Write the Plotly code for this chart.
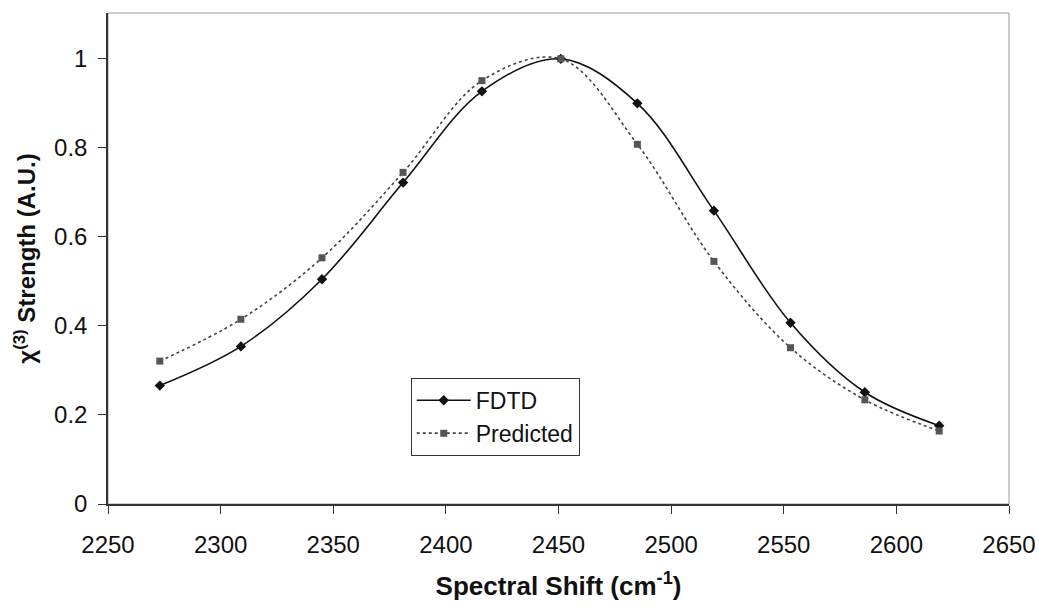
import plotly.graph_objects as go

shift = [2273, 2309, 2345, 2381, 2416, 2451, 2485, 2519, 2553, 2586, 2619]
fdtd = [0.266, 0.354, 0.505, 0.722, 0.927, 1.0, 0.900, 0.659, 0.407, 0.251, 0.176]
predicted = [0.321, 0.415, 0.553, 0.745, 0.951, 1.0, 0.808, 0.545, 0.351, 0.234, 0.164]

x_ticks = [2250, 2300, 2350, 2400, 2450, 2500, 2550, 2600, 2650]
y_ticks = [0, 0.2, 0.4, 0.6, 0.8, 1]
y_tick_text = ["0", "0.2", "0.4", "0.6", "0.8", "1"]

FONT = "Arial, Liberation Sans, Helvetica, sans-serif"

fig = go.Figure()
fig.add_trace(go.Scatter(
    x=shift, y=fdtd, name="FDTD", mode="lines+markers",
    line=dict(color="#111111", width=1.6, shape="spline", smoothing=1.0),
    marker=dict(symbol="diamond", size=8, color="#111111"),
))
fig.add_trace(go.Scatter(
    x=shift, y=predicted, name="Predicted", mode="lines+markers",
    line=dict(color="#444444", width=1.6, dash="dot", shape="spline", smoothing=1.0),
    marker=dict(symbol="square", size=7, color="#555555"),
))

fig.update_layout(
    width=1039, height=608,
    margin=dict(l=108, r=30, t=13, b=104, autoexpand=False),
    paper_bgcolor="white", plot_bgcolor="white",
    font=dict(family=FONT, color="#111111", size=22),
    showlegend=True,
    legend=dict(
        x=0.336, y=0.257, xanchor="left", yanchor="top",
        bordercolor="#333333", borderwidth=1, bgcolor="white",
        font=dict(family=FONT, size=23, color="#111111"),
        tracegroupgap=0, itemwidth=54,
    ),
    xaxis=dict(
        range=[2250, 2650], tickvals=x_ticks, ticktext=[str(v) for v in x_ticks],
        automargin=False,
        showgrid=False, zeroline=False, showline=True, linecolor="#333333", linewidth=1.5,
        ticks="outside", ticklen=8, tickcolor="#333333", tickwidth=1,
        tickfont=dict(family=FONT, size=24, color="#111111"), ticklabelstandoff=10,
        title=dict(text="<b>Spectral Shift (cm<sup>-1</sup>)</b>", standoff=20,
                   font=dict(family=FONT, size=26, color="#111111")),
    ),
    yaxis=dict(
        range=[0, 1.103], tickvals=y_ticks, ticktext=y_tick_text,
        automargin=False,
        showgrid=False, zeroline=False, showline=True, linecolor="#333333", linewidth=1.5,
        ticks="outside", ticklen=8, tickcolor="#333333", tickwidth=1,
        tickfont=dict(family=FONT, size=24, color="#111111"), ticklabelstandoff=6,
        title=dict(text="<b>χ<sup>(3)</sup> Strength (A.U.)</b>", standoff=12,
                   font=dict(family=FONT, size=24, color="#111111")),
    ),
    shapes=[dict(type="rect", xref="paper", yref="paper", x0=0, y0=0, x1=1, y1=1,
                 line=dict(color="#999999", width=1), layer="below")],
)

fig.write_html("out.html")
